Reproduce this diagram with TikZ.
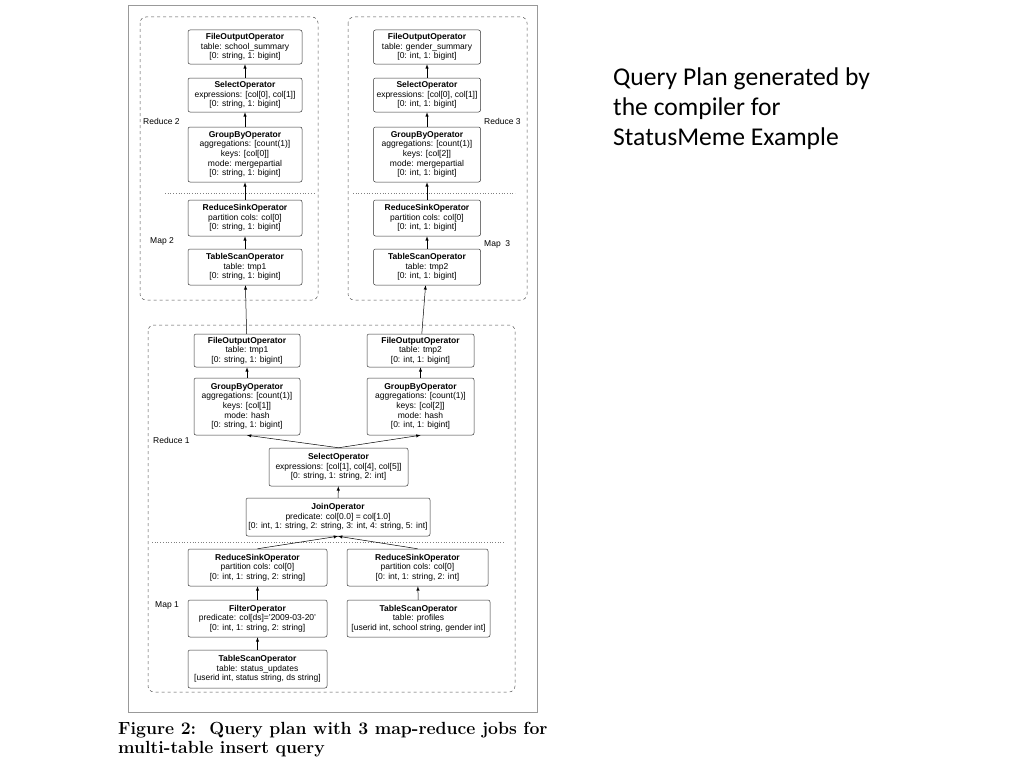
\documentclass[tikz,border=0pt]{standalone}
\usepackage{fontspec}
\setmainfont{Liberation Sans}
\newfontfamily\capfont{Latin Modern Roman}
\newfontfamily\notefont{Carlito}
\usetikzlibrary{arrows.meta}

\begin{document}
\begin{tikzpicture}[x=1pt,y=-1pt,>=latex,
	op/.style={draw=black!80,rounded corners=2pt,align=center,inner sep=1pt,
		font=\fontsize{8.5}{9.6}\selectfont,line width=0.5pt},
	job/.style={draw=black!70,dashed,rounded corners=6pt,line width=0.5pt},
	split/.style={draw=black!50,dotted,line width=0.7pt},
	flow/.style={->,line width=0.5pt},
	lbl/.style={font=\fontsize{8.5}{9}\selectfont,anchor=west,inner sep=0pt}]
	
	\useasboundingbox (0,0) rectangle (1024,768);
	% figure frame
	\draw[black!40,line width=0.4pt] (128,5) rectangle (537,712);
	
	% job regions
	\draw[job] (140,17) rectangle (318,300);
	\draw[job] (348,17) rectangle (527,300);
	\draw[job] (148,325) rectangle (515,692);
	\draw[split] (165,193) -- (315,193);
	\draw[split] (353,193) -- (515,193);
	\draw[split] (152,542) -- (505,542);
	
	\node[lbl] at (143,121) {Reduce 2};
	\node[lbl] at (150,241) {Map 2};
	\node[lbl] at (484,121) {Reduce 3};
	\node[lbl] at (484,244) {Map\ \ 3};
	\node[lbl] at (153,440) {Reduce 1};
	\node[lbl] at (155,605) {Map 1};
	
	% Reduce 2 / Map 2
	\node[op,minimum width=114,minimum height=34] (fo2) at (245,47) {\textbf{FileOutputOperator}\\table: school\_summary\\{[0: string, 1: bigint]}};
	\node[op,minimum width=114,minimum height=34] (sel2) at (245,95) {\textbf{SelectOperator}\\expressions: [col[0], col[1]]\\{[0: string, 1: bigint]}};
	\node[op,minimum width=114,minimum height=55] (gb2) at (245,154.5) {\textbf{GroupByOperator}\\aggregations: [count(1)]\\keys: [col[0]]\\mode: mergepartial\\{[0: string, 1: bigint]}};
	\node[op,minimum width=114,minimum height=36] (rs2) at (245,218) {\textbf{ReduceSinkOperator}\\partition cols: col[0]\\{[0: string, 1: bigint]}};
	\node[op,minimum width=114,minimum height=36] (ts2) at (245,267) {\textbf{TableScanOperator}\\table: tmp1\\{[0: string, 1: bigint]}};
	
	% Reduce 3 / Map 3
	\node[op,minimum width=107,minimum height=34] (fo3) at (427,47) {\textbf{FileOutputOperator}\\table: gender\_summary\\{[0: int, 1: bigint]}};
	\node[op,minimum width=107,minimum height=34] (sel3) at (427,95) {\textbf{SelectOperator}\\expressions: [col[0], col[1]]\\{[0: int, 1: bigint]}};
	\node[op,minimum width=107,minimum height=55] (gb3) at (427,154.5) {\textbf{GroupByOperator}\\aggregations: [count(1)]\\keys: [col[2]]\\mode: mergepartial\\{[0: int, 1: bigint]}};
	\node[op,minimum width=107,minimum height=36] (rs3) at (427,218) {\textbf{ReduceSinkOperator}\\partition cols: col[0]\\{[0: int, 1: bigint]}};
	\node[op,minimum width=107,minimum height=36] (ts3) at (427,267) {\textbf{TableScanOperator}\\table: tmp2\\{[0: int, 1: bigint]}};
	
	% Reduce 1
	\node[op,minimum width=106,minimum height=33] (fo1a) at (247,350.5) {\textbf{FileOutputOperator}\\table: tmp1\\{[0: string, 1: bigint]}};
	\node[op,minimum width=107,minimum height=33] (fo1b) at (420.5,350.5) {\textbf{FileOutputOperator}\\table: tmp2\\{[0: int, 1: bigint]}};
	\node[op,minimum width=106,minimum height=57] (gb1a) at (247,406.5) {\textbf{GroupByOperator}\\aggregations: [count(1)]\\keys: [col[1]]\\mode: hash\\{[0: string, 1: bigint]}};
	\node[op,minimum width=107,minimum height=57] (gb1b) at (420.5,406.5) {\textbf{GroupByOperator}\\aggregations: [count(1)]\\keys: [col[2]]\\mode: hash\\{[0: int, 1: bigint]}};
	\node[op,minimum width=139,minimum height=38] (sel1) at (338.5,467) {\textbf{SelectOperator}\\expressions: [col[1], col[4], col[5]]\\{[0: string, 1: string, 2: int]}};
	\node[op,minimum width=184,minimum height=38] (join) at (338,517) {\textbf{JoinOperator}\\predicate: col[0.0] = col[1.0]\\{[0: int, 1: string, 2: string, 3: int, 4: string, 5: int]}};
	
	% Map 1
	\node[op,minimum width=139,minimum height=37] (rs1a) at (257.5,567.5) {\textbf{ReduceSinkOperator}\\partition cols: col[0]\\{[0: int, 1: string, 2: string]}};
	\node[op,minimum width=141,minimum height=37] (rs1b) at (417.5,567.5) {\textbf{ReduceSinkOperator}\\partition cols: col[0]\\{[0: int, 1: string, 2: int]}};
	\node[op,minimum width=139,minimum height=37] (filt) at (257.5,618.5) {\textbf{FilterOperator}\\predicate: col[ds]='2009-03-20'\\{[0: int, 1: string, 2: string]}};
	\node[op,minimum width=143,minimum height=37] (tsp) at (418.5,618.5) {\textbf{TableScanOperator}\\table: profiles\\{[userid int, school string, gender int]}};
	\node[op,minimum width=139,minimum height=38] (tss) at (257.5,669) {\textbf{TableScanOperator}\\table: status\_updates\\{[userid int, status string, ds string]}};
	
	% data flow
	\foreach \a/\b in {sel2/fo2,gb2/sel2,rs2/gb2,ts2/rs2,sel3/fo3,gb3/sel3,rs3/gb3,ts3/rs3,
		fo1a/ts2,fo1b/ts3,gb1a/fo1a,gb1b/fo1b,join/sel1,filt/rs1a,tss/filt,tsp/rs1b}
	\draw[flow] (\a) -- (\b);
	\draw[flow] (sel1.north) -- (gb1a.south);
	\draw[flow] (sel1.north) -- (gb1b.south);
	\draw[flow] (rs1a.north) -- (join.south);
	\draw[flow] (rs1b.north) -- (join.south);
	
	% caption and note
	\node[anchor=north west,align=left,inner sep=0pt,font=\capfont\bfseries\fontsize{17.6}{19}\selectfont] (cap) at (118,722)
	{Figure 2:\ \ Query plan with 3 map-reduce jobs for\\multi-table insert query};
	\node[anchor=north west,align=left,inner sep=0pt,font=\notefont\fontsize{25.6}{30}\selectfont] (note) at (613,68)
	{Query Plan generated by\\the compiler for\\StatusMeme Example};
\end{tikzpicture}
\end{document}
